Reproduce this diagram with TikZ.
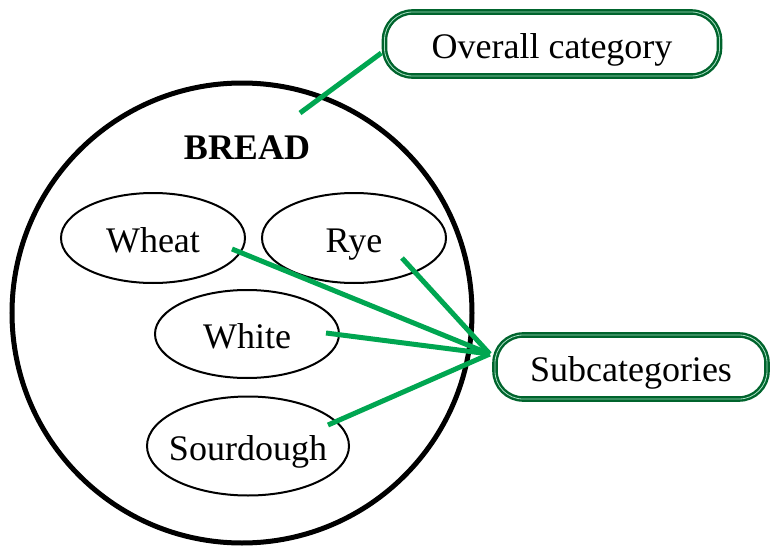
\documentclass[tikz,border=0pt]{standalone}
\usepackage{fontspec}
\setmainfont{Liberation Serif}
\definecolor{boxgreen}{RGB}{0,100,45}
\definecolor{linegreen}{RGB}{0,166,81}
\begin{document}
\begin{tikzpicture}[x=0.5pt,y=-0.5pt,
    lbl/.style={font=\fontsize{18}{22}\selectfont, text height=17pt, text depth=3pt, inner sep=0pt},
    tag/.style={lbl, draw=boxgreen, line width=1.2pt, double=linegreen!35!white, double distance=0.4pt,
      rounded corners=14pt, minimum height=32pt},
    link/.style={draw=linegreen, line width=2.5pt}]
  \useasboundingbox (0,0) rectangle (772,546);
  % the overall category
  \node[draw, circle, line width=2.5pt, minimum size=230pt, inner sep=0pt] (bread) at (242,313) {};
  \node[lbl, font=\fontsize{18}{22}\selectfont\bfseries] (title) at (247,145) {BREAD};
  % the subcategories
  \node[lbl] (wheat) at (153,238) {Wheat};
  \node[lbl] (rye) at (354,238) {Rye};
  \node[lbl] (white) at (247,334) {White};
  \node[lbl] (sour) at (248,446) {Sourdough};
  \draw[line width=1pt] (wheat) ellipse [x radius=46pt, y radius=22.5pt];
  \draw[line width=1pt] (rye) ellipse [x radius=46pt, y radius=22.5pt];
  \draw[line width=1pt] (white) ellipse [x radius=46pt, y radius=22pt];
  \draw[line width=1pt] (sour) ellipse [x radius=50.5pt, y radius=24.75pt];
  % callouts
  \node[tag, minimum width=167.5pt] (overall) at (552,44) {Overall category};
  \node[tag, minimum width=136pt] (subcats) at (631,367) {Subcategories};
  \coordinate (title-end) at (300,113);
  \coordinate (wheat-end) at (232,249);
  \coordinate (rye-end) at (402,258);
  \coordinate (white-end) at (326,333);
  \coordinate (sour-end) at (328,425);
  \begin{scope}[link]
    \draw (title-end) -- ([xshift=-1pt,yshift=-4.5pt]overall.west);
    \draw (wheat-end) -- ([xshift=-2pt,yshift=6.5pt]subcats.west);
    \draw (rye-end) -- ([xshift=-2pt,yshift=6.5pt]subcats.west);
    \draw (white-end) -- ([xshift=-2pt,yshift=6.5pt]subcats.west);
    \draw (sour-end) -- ([xshift=-2pt,yshift=6.5pt]subcats.west);
  \end{scope}
\end{tikzpicture}
\end{document}
